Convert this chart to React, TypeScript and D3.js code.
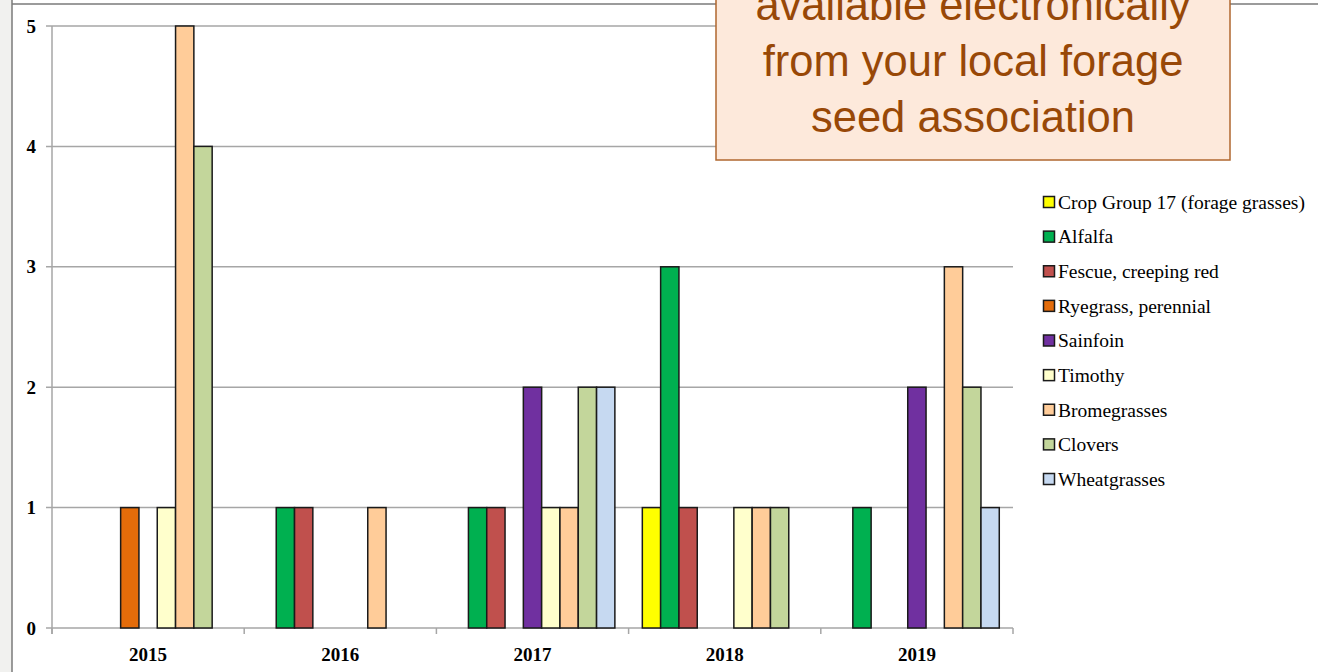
import React from "react";
import * as d3 from "d3";

const years = ["2015", "2016", "2017", "2018", "2019"];
const seriesNames = [
  "Crop Group 17 (forage grasses)",
  "Alfalfa",
  "Fescue, creeping red",
  "Ryegrass, perennial",
  "Sainfoin",
  "Timothy",
  "Bromegrasses",
  "Clovers",
  "Wheatgrasses",
];
const seriesColors = [
  "#FFFF00",
  "#00B050",
  "#C0504D",
  "#E46C0A",
  "#7030A0",
  "#FFFFCC",
  "#FFCC99",
  "#C3D69B",
  "#C6D9F1",
];
const cropGroup17 = [0, 0, 0, 1, 0];
const alfalfa = [0, 1, 1, 3, 1];
const fescue = [0, 1, 1, 1, 0];
const ryegrass = [1, 0, 0, 0, 0];
const sainfoin = [0, 0, 2, 0, 2];
const timothy = [1, 0, 1, 1, 0];
const bromegrasses = [5, 1, 1, 1, 3];
const clovers = [4, 0, 2, 1, 2];
const wheatgrasses = [0, 0, 2, 0, 1];
const seriesValues = [cropGroup17, alfalfa, fescue, ryegrass, sainfoin, timothy, bromegrasses, clovers, wheatgrasses];
const yTicks = [0, 1, 2, 3, 4, 5];
const noteLines = ["available electronically", "from your local forage", "seed association"];

export default function App() {
  const W = 1318;
  const H = 672;
  const x0 = d3.scaleBand<string>().domain(years).range([52, 1013]).padding(0);
  const x1 = d3
    .scaleBand<number>()
    .domain(d3.range(seriesNames.length))
    .range([0, x0.bandwidth()])
    .paddingInner(0)
    .paddingOuter(0.75);
  const y = d3.scaleLinear().domain([0, 5]).range([628, 26]);
  const grid = "#a6a6a6";
  const serif = "'Liberation Serif', 'Times New Roman', serif";
  const sans = "'Liberation Sans', Arial, sans-serif";
  const legendY = d3.scaleLinear().domain([0, 8]).range([202, 479]);

  const boundaries = years.map((yr) => x0(yr) as number).concat([1013]);

  return (
    <svg
      width={W}
      height={H}
      style={{ position: "absolute", left: 0, top: 0, background: "#fff" }}
    >
      <rect x={0} y={0} width={12} height={H} fill="#f1f1ef" />
      <line x1={12} y1={0} x2={12} y2={H} stroke="#7a7a7a" strokeWidth={1.5} />
      <line x1={12} y1={4} x2={W} y2={4} stroke="#7a7a7a" strokeWidth={1.5} />

      {yTicks.map((t) => (
        <g key={t}>
          <line x1={46} x2={1013} y1={y(t)} y2={y(t)} stroke={grid} strokeWidth={1.5} />
          <text
            x={36}
            y={y(t)}
            dy="0.35em"
            textAnchor="end"
            fontFamily={serif}
            fontWeight="bold"
            fontSize={19}
            fill="#000"
          >
            {t}
          </text>
        </g>
      ))}
      <line x1={52} x2={52} y1={26} y2={634} stroke={grid} strokeWidth={1.5} />
      {boundaries.map((bx, i) => (
        <line key={i} x1={bx} x2={bx} y1={628} y2={634} stroke={grid} strokeWidth={1.5} />
      ))}
      {years.map((yr) => (
        <text
          key={yr}
          x={(x0(yr) as number) + x0.bandwidth() / 2}
          y={661}
          textAnchor="middle"
          fontFamily={serif}
          fontWeight="bold"
          fontSize={19}
          fill="#000"
        >
          {yr}
        </text>
      ))}

      {years.map((yr, yi) => (
        <g key={yr} transform={`translate(${x0(yr)},0)`}>
          {seriesValues.map((vals, si) =>
            vals[yi] > 0 ? (
              <rect
                key={si}
                x={x1(si) as number}
                y={y(vals[yi])}
                width={x1.bandwidth()}
                height={y(0) - y(vals[yi])}
                fill={seriesColors[si]}
                stroke="#1a1a1a"
                strokeWidth={1.5}
              />
            ) : null
          )}
        </g>
      ))}

      {seriesNames.map((name, i) => (
        <g key={name}>
          <rect
            x={1043.5}
            y={legendY(i) - 5.5}
            width={11}
            height={11}
            fill={seriesColors[i]}
            stroke="#1a1a1a"
            strokeWidth={1.5}
          />
          <text
            x={1058}
            y={legendY(i)}
            dy="0.35em"
            fontFamily={serif}
            fontSize={19.5}
            fill="#000"
          >
            {name}
          </text>
        </g>
      ))}

      <rect x={716} y={-20} width={514} height={180} fill="#FDE9DB" stroke="#B0672F" strokeWidth={1.5} />
      {noteLines.map((ln, i) => (
        <text
          key={ln}
          x={973}
          y={20 + i * 56}
          textAnchor="middle"
          fontFamily={sans}
          fontSize={43.5}
          fill="#984807"
        >
          {ln}
        </text>
      ))}
    </svg>
  );
}
